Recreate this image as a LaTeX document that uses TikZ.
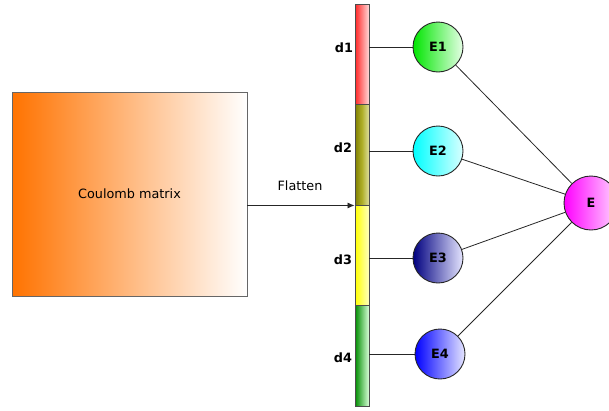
\documentclass[tikz,border=0pt]{standalone}
\usepackage{fontspec}
\setmainfont{DejaVu Sans}
\usetikzlibrary{positioning,arrows.meta}
\begin{document}
\begin{tikzpicture}[x=1pt,y=-1pt,font=\fontsize{12.8}{15}\selectfont,
	seg/.style={rectangle, draw=black!70, line width=0.9pt, minimum width=14pt, minimum height=100.5pt, inner sep=0pt},
	unit/.style={circle, draw=black!85, line width=0.9pt, minimum size=50pt, inner sep=0pt, font=\fontsize{12.8}{15}\selectfont\bfseries},
	dlab/.style={font=\fontsize{12.8}{15}\selectfont\bfseries},
	link/.style={draw=black!85, line width=0.8pt}]
	\clip (0,0) rectangle (609,410);
	\node (cm) at (129.5, 194)	[rectangle, draw=black!60, minimum width=235pt, minimum height=204pt, left color=orange!90!red, right color=white]	{Coulomb matrix};
	\node (d1) at (362, 54.25)	[seg, left color=red!85, right color=red!15]	{};
	\node (d2) at (362, 154.75)	[seg, left color=olive!80!gray, right color=olive!25]	{};
	\node (d3) at (362, 255.25)	[seg, left color=yellow, right color=yellow!25]	{};
	\node (d4) at (362, 355.75)	[seg, left color=green!55!black, right color=green!15]	{};
	\node (ld1) at (344, 48)	[dlab]	{d1};
	\node (ld2) at (343, 148)	[dlab]	{d2};
	\node (ld3) at (343, 260)	[dlab]	{d3};
	\node (ld4) at (343, 358)	[dlab]	{d4};
	\node (E1) at (438, 47)	[unit, left color=green!90!black, right color=green!10]	{E1};
	\node (E2) at (438, 151)	[unit, left color=cyan, right color=cyan!15]	{E2};
	\node (E3) at (438, 258)	[unit, left color=blue!50!black, right color=blue!10]	{E3};
	\node (E4) at (440, 354)	[unit, left color=blue, right color=blue!10]	{E4};
	\node (E) at (591, 203)	[unit, minimum size=54pt, left color=magenta, right color=magenta!15]	{E};
	\node (flat) at (300, 186)	{Flatten};
	\draw[link, -{Latex[length=7pt,width=6pt]}] (cm.east |- d2.south west) -- (d2.south west);
	\draw[link] (E1 -| d1.east) -- (E1);
	\draw[link] (E2 -| d2.east) -- (E2);
	\draw[link] (E3 -| d3.east) -- (E3);
	\draw[link] (E4 -| d4.east) -- (E4);
	\draw[link] (E1) -- (E);
	\draw[link] (E2) -- (E);
	\draw[link] (E3) -- (E);
	\draw[link] (E4) -- (E);
\end{tikzpicture}
\end{document}
